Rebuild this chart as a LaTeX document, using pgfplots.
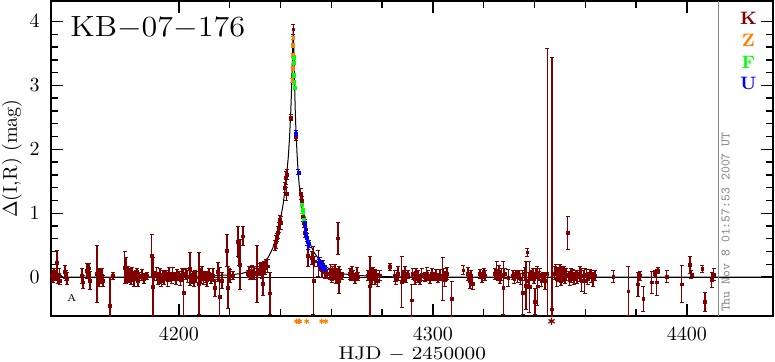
\documentclass[border=0pt]{standalone}
\usepackage{fontspec}
\usepackage{graphicx}
\usepackage{pgfplots}
\usepackage{pgfplotstable}
\pgfplotsset{compat=1.18}
\definecolor{kred}{HTML}{800000}
\definecolor{zorange}{HTML}{FF8000}
\definecolor{fgreen}{HTML}{00FF00}
\definecolor{ublue}{HTML}{0000FF}
\definecolor{tsgray}{HTML}{888888}

\pgfplotstableread{
x y e
4150.0 0.03 0.08
4150.4 -0.02 0.07
4150.8 0.05 0.09
4151.2 0.00 0.06
4151.6 0.03 0.08
4152.0 0.23 0.18
4152.4 -0.03 0.07
4152.8 0.04 0.10
4153.1 -0.05 0.07
4155.1 0.08 0.10
4155.5 0.02 0.08
4155.9 -0.02 0.09
4161.8 0.02 0.12
4162.2 -0.08 0.10
4163.8 0.10 0.12
4164.2 0.05 0.07
4164.6 0.14 0.08
4165.0 -0.05 0.14
4167.7 0.05 0.45
4168.1 0.02 0.10
4168.5 -0.03 0.12
4168.9 0.05 0.08
4169.3 -0.01 0.09
4169.7 0.03 0.11
4170.1 -0.06 0.08
4172.8 -0.45 0.45
4174.0 0.02 0.05
4178.7 0.15 0.25
4179.1 0.10 0.20
4179.5 0.01 0.08
4179.9 0.05 0.12
4180.3 -0.02 0.07
4180.7 0.04 0.10
4181.1 -0.04 0.08
4181.5 0.06 0.09
4182.3 -0.03 0.12
4183.1 0.02 0.08
4183.5 0.08 0.06
4183.9 -0.05 0.10
4184.6 0.01 0.07
4185.4 0.03 0.09
4186.2 -0.02 0.08
4187.4 0.02 0.06
4189.2 0.33 0.33
4189.8 -0.15 0.45
4190.2 0.02 0.07
4191.3 0.05 0.10
4191.7 -0.03 0.08
4192.5 0.02 0.12
4193.0 -0.05 0.09
4193.7 0.04 0.07
4194.1 -0.01 0.10
4194.9 0.03 0.08
4195.5 -0.04 0.11
4196.1 0.06 0.09
4196.5 0.00 0.07
4197.2 -0.02 0.08
4197.6 0.05 0.10
4198.0 0.01 0.06
4198.8 -0.03 0.09
4199.2 0.04 0.08
4200.0 0.02 0.07
4200.5 -0.04 0.09
4201.2 0.03 0.10
4201.8 -0.24 0.36
4202.8 0.05 0.08
4203.5 0.01 0.10
4204.3 0.13 0.26
4205.1 -0.02 0.08
4205.5 0.03 0.06
4205.9 -0.05 0.10
4206.3 0.02 0.08
4206.7 0.00 0.09
4207.9 -0.10 0.49
4208.3 0.04 0.10
4208.7 -0.02 0.08
4209.1 0.06 0.10
4209.4 0.01 0.07
4209.8 -0.03 0.09
4210.2 0.03 0.06
4210.6 0.00 0.08
4211.0 -0.04 0.10
4211.4 0.02 0.07
4211.8 0.05 0.09
4212.6 -0.02 0.08
4213.4 0.03 0.10
4214.2 -0.17 0.13
4215.4 0.08 0.15
4216.1 -0.30 0.45
4216.9 -0.05 0.12
4218.9 0.42 0.25
4219.3 -0.16 0.33
4219.7 0.05 0.08
4220.1 0.02 0.10
4221.3 0.03 0.06
4223.2 0.56 0.23
4223.6 0.33 0.15
4224.0 0.20 0.39
4225.2 0.64 0.15
4227.2 0.05 0.06
4227.6 0.08 0.08
4228.0 0.03 0.07
4228.4 0.06 0.09
4228.7 0.10 0.08
4229.1 0.04 0.06
4229.5 0.07 0.10
4230.7 0.05 0.44
4231.9 0.12 0.10
4232.3 0.15 0.08
4232.7 0.10 0.12
4233.1 -0.10 0.19
4233.5 0.18 0.07
4233.9 0.14 0.10
4234.3 0.20 0.08
4235.0 0.17 0.10
4235.8 -0.25 0.33
4237.8 0.50 0.08
4238.2 0.55 0.10
4238.6 0.62 0.07
4239.0 0.70 0.09
4239.4 0.78 0.08
4239.8 0.90 0.06
4240.0 0.85 0.10
4241.7 1.40 0.08
4242.1 1.55 0.10
4242.3 1.30 0.10
4242.5 1.60 0.08
4244.0 2.50 0.05
4245.0 3.88 0.08
4246.1 2.20 0.06
4248.0 1.30 0.08
4248.4 1.20 0.06
4248.8 0.95 0.08
4249.2 0.85 0.08
4249.6 0.70 0.08
4250.8 0.33 0.16
4252.4 0.30 0.10
4252.9 -0.05 0.53
4253.5 0.25 0.08
4254.8 0.21 0.20
4255.5 0.18 0.08
4256.3 0.12 0.12
4257.5 0.08 0.10
4258.3 0.05 0.07
4259.4 0.05 0.08
4259.8 0.10 0.10
4260.2 -0.02 0.07
4260.6 0.08 0.09
4261.0 0.03 0.06
4261.4 0.12 0.08
4261.8 0.00 0.10
4262.2 0.06 0.07
4262.6 0.61 0.25
4263.0 -0.05 0.21
4263.4 0.04 0.08
4264.2 0.02 0.06
4267.3 0.05 0.08
4267.7 0.00 0.06
4268.1 0.08 0.09
4268.5 0.03 0.07
4269.3 -0.02 0.08
4270.1 0.05 0.10
4270.5 0.01 0.07
4274.4 0.02 0.08
4275.2 -0.14 0.47
4275.6 0.05 0.10
4276.0 -0.03 0.08
4276.4 0.06 0.09
4277.2 0.00 0.12
4277.6 0.04 0.07
4278.3 -0.05 0.10
4279.1 0.03 0.08
4283.1 0.16 0.06
4285.0 0.02 0.09
4285.4 -0.04 0.08
4286.2 0.05 0.11
4287.7 -0.07 0.40
4288.2 0.03 0.08
4288.6 -0.02 0.07
4289.0 0.06 0.10
4289.4 0.00 0.08
4290.2 0.04 0.06
4291.7 -0.36 0.25
4292.1 0.05 0.08
4292.9 -0.02 0.10
4293.3 0.07 0.07
4294.1 0.01 0.09
4294.9 -0.04 0.08
4295.6 0.04 0.10
4296.9 0.00 0.07
4297.6 0.06 0.09
4298.0 0.02 0.08
4298.8 -0.03 0.07
4299.6 0.05 0.09
4300.4 0.01 0.06
4301.2 0.04 0.08
4302.0 -0.02 0.07
4302.8 0.03 0.09
4303.8 -0.03 0.34
4304.3 0.05 0.08
4304.7 -0.04 0.10
4305.1 0.02 0.07
4305.5 0.06 0.09
4307.4 -0.34 0.27
4311.9 0.11 0.07
4313.8 0.05 0.10
4314.6 -0.05 0.12
4315.0 0.02 0.08
4315.7 -0.10 0.10
4318.5 0.05 0.07
4319.3 0.00 0.08
4320.1 0.08 0.06
4320.5 0.03 0.08
4324.4 0.05 0.09
4325.1 0.11 0.14
4325.6 0.02 0.08
4326.0 0.08 0.10
4326.4 -0.03 0.07
4327.0 0.04 0.09
4327.7 -0.17 0.41
4328.3 0.06 0.08
4329.6 -0.01 0.13
4331.5 0.03 0.07
4332.0 -0.02 0.08
4332.7 0.05 0.06
4333.3 0.00 0.09
4333.9 0.04 0.07
4334.5 -0.03 0.08
4335.3 -0.24 0.34
4336.2 0.05 0.10
4336.6 -0.13 0.37
4337.1 0.39 0.06
4337.5 -0.05 0.12
4338.0 -0.15 0.40
4338.6 0.02 0.08
4339.4 0.05 0.09
4339.8 -0.03 0.07
4340.2 -0.38 0.20
4340.6 0.06 0.08
4341.1 -0.14 0.31
4341.6 0.02 0.07
4342.1 0.04 0.09
4342.6 -0.05 0.10
4343.3 0.00 0.08
4344.1 -0.06 0.13
4345.0 0.05 3.53
4346.9 -0.50 3.94
4348.0 0.06 0.10
4348.4 0.12 0.08
4348.8 -0.03 0.12
4349.2 0.08 0.07
4349.6 0.02 0.09
4350.0 0.10 0.10
4350.4 -0.05 0.08
4350.8 0.05 0.11
4351.2 0.00 0.07
4351.6 0.07 0.09
4352.0 -0.02 0.08
4352.4 0.04 0.10
4353.0 0.69 0.26
4353.5 0.02 0.07
4353.9 -0.04 0.09
4354.3 0.06 0.08
4354.7 0.01 0.10
4355.1 0.05 0.07
4355.5 -0.03 0.09
4356.3 0.03 0.08
4356.7 0.00 0.10
4357.9 0.05 0.12
4358.5 -0.05 0.18
4359.2 0.02 0.09
4359.8 -0.06 0.20
4360.6 0.04 0.08
4361.0 -0.02 0.10
4361.8 0.05 0.07
4362.4 0.01 0.09
4363.0 -0.03 0.11
4363.8 0.03 0.08
4371.0 0.01 0.09
4376.9 -0.22 0.38
4380.7 -0.11 0.19
4381.5 0.02 0.07
4382.8 -0.34 0.19
4386.1 -0.08 0.17
4387.4 0.05 0.06
4388.1 -0.08 0.20
4388.6 0.10 0.05
4392.0 0.01 0.09
4397.9 -0.11 0.29
4401.2 0.19 0.14
4401.8 0.04 0.06
4406.0 0.13 0.05
4407.1 -0.39 0.15
4409.7 -0.04 0.12
4410.6 0.04 0.09
}\kdata

\pgfplotstableread{
x y e
4244.6 3.08 0.03
4244.7 3.27 0.03
4244.8 3.47 0.03
4244.9 3.63 0.03
4245.0 3.74 0.03
}\zdata

\pgfplotstableread{
x y e
4245.1 3.44 0.03
4245.2 3.35 0.03
4245.3 3.16 0.03
4245.4 3.05 0.03
4245.5 2.96 0.03
4248.3 1.14 0.04
4248.6 1.05 0.05
4248.9 1.01 0.04
4249.1 0.90 0.05
}\fdata

\pgfplotstableread{
x y e
4246.1 2.25 0.05
4247.0 1.64 0.04
4249.6 0.85 0.05
4249.8 0.75 0.06
4250.0 0.68 0.05
4250.3 0.62 0.06
4250.6 0.55 0.05
4250.9 0.50 0.06
4251.2 0.52 0.05
4255.0 0.22 0.06
4255.4 0.25 0.05
4255.8 0.18 0.07
4256.3 0.15 0.05
4256.8 0.20 0.06
4257.5 0.12 0.05
}\udata

\pgfplotstableread{
x y
4149.8 0.0
4155 0.0
4185 0.003
4205 0.01
4215 0.025
4220 0.035
4225 0.06
4229 0.11
4232 0.18
4235 0.30
4237 0.46
4239 0.72
4240 0.91
4241 1.14
4242 1.44
4243 1.86
4243.5 2.16
4244 2.57
4244.25 2.84
4244.5 3.19
4244.75 3.60
4245 3.85
4245.25 3.50
4245.5 3.05
4245.75 2.65
4246 2.35
4246.5 1.92
4247 1.60
4248 1.15
4249 0.90
4250 0.72
4251 0.58
4253 0.40
4255 0.28
4258 0.16
4261 0.09
4265 0.05
4270 0.03
4275 0.015
4285 0.005
4305 0.0
4433.9 0.0
}\curve

\pgfplotsset{
  mystyle/.style={
    scale only axis, width=360.8pt, height=157.6pt,
    xmin=4149.8, xmax=4433.9, ymin=-0.61, ymax=4.32,
  },
  kerr/.style={only marks, mark=square*, mark size=0.7pt,
    mark options={line width=0.2pt},
    error bars/.cd, y dir=both, y explicit,
    error bar style={line width=0.6pt},
    error mark options={rotate=90, mark size=1pt, line width=0.5pt},
  },
}

\begin{document}
\begin{tikzpicture}
\begin{axis}[
  mystyle,
  xtick={4200,4300,4400}, minor x tick num=4,
  ytick={0,1,2,3,4}, minor y tick num=4,
  tick align=inside,
  major tick length=6pt, minor tick length=3.5pt,
  axis line style={line width=1pt},
  every tick/.append style={line width=0.7pt, black},
  tick label style={font=\fontsize{10}{12}\selectfont},
  xticklabel style={yshift=-2.4pt},
  yticklabel style={xshift=-2.4pt},
  /pgf/number format/1000 sep={},
  xlabel={\scalebox{1.12}[1]{HJD $-$ 2450000}},
  ylabel={$\Delta$(I,R) (mag)},
  label style={font=\fontsize{10}{12}\selectfont, inner sep=0pt},
  xlabel style={font=\fontsize{9.2}{11}\selectfont, at={([yshift=-19.2pt]axis description cs:0.5,0)}, anchor=center},
  ylabel style={at={([xshift=-19.75pt]axis description cs:0,0.5)}, anchor=center},
]
\addplot[black, line width=0.6pt] coordinates {(4149.8,0) (4433.9,0)};
\addplot[black, line width=0.5pt] table[x=x,y=y] {\curve};
\addplot[kred, kerr] table[x=x,y=y,y error=e] {\kdata};
\addplot[zorange, kerr] table[x=x,y=y,y error=e] {\zdata};
\addplot[fgreen, kerr] table[x=x,y=y,y error=e] {\fdata};
\addplot[ublue, kerr] table[x=x,y=y,y error=e] {\udata};
\draw[tsgray, line width=0.6pt] (axis cs:4412.4,-0.61) -- (axis cs:4412.4,4.32);
\node[anchor=north west, inner sep=0pt, xshift=9.25pt, yshift=-7.5pt] at (rel axis cs:0,1)
  {\scalebox{1.1}[1]{\fontsize{14.6}{16}\selectfont KB$-$07$-$176}};
\node[kred, font=\fontsize{9}{10}\selectfont\bfseries] at (axis cs:4424.2,4.05) {K};
\node[zorange, font=\fontsize{9}{10}\selectfont\bfseries] at (axis cs:4424.2,3.71) {Z};
\node[fgreen, font=\fontsize{9}{10}\selectfont\bfseries] at (axis cs:4424.2,3.36) {F};
\node[ublue, font=\fontsize{9}{10}\selectfont\bfseries] at (axis cs:4424.2,3.03) {U};
\node[font=\fontsize{5}{6}\selectfont] at (axis cs:4157.8,-0.32) {A};
\node[tsgray, rotate=90, font=\fontsize{6.5}{7}\selectfont\ttfamily] at (axis cs:4415.2,0.86) {Thu Nov  8 01:57:53 2007 UT};
\coordinate (bl) at (rel axis cs:0,0);
\coordinate (tr) at (rel axis cs:1,1);
\end{axis}
\begin{axis}[mystyle, hide axis, clip=false]
\addplot[zorange, only marks, mark=asterisk, mark size=1.3pt, line width=0.5pt] coordinates {
(4246.3,-0.69) (4247.1,-0.69) (4247.5,-0.69) (4250.3,-0.69) (4256.2,-0.69) (4257.8,-0.69)};
\addplot[kred, only marks, mark=asterisk, mark size=1.8pt, line width=0.6pt] coordinates {(4346.7,-0.69)};
\end{axis}
\pgfresetboundingbox
\path[use as bounding box] ([shift={(-25.75pt,-22.9pt)}]bl) rectangle ([shift={(1pt,0.5pt)}]tr);
\end{tikzpicture}
\end{document}
